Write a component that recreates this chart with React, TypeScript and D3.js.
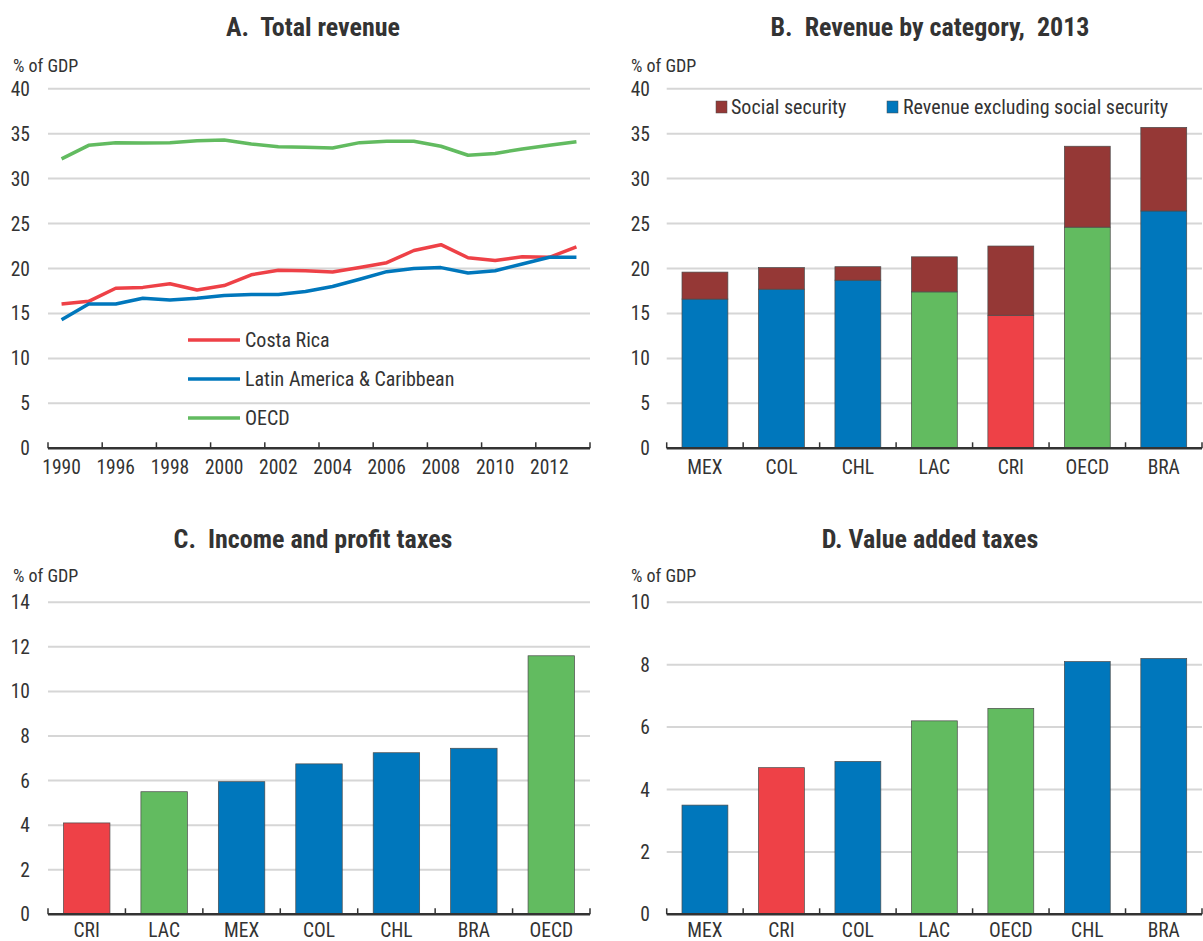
import React from "react";
import * as d3 from "d3";

const years = ["1990","1995","1996","1997","1998","1999","2000","2001","2002","2003","2004","2005","2006","2007","2008","2009","2010","2011","2012","2013"];
const costaRica = [16.05,16.35,17.8,17.9,18.3,17.6,18.1,19.3,19.8,19.75,19.6,20.1,20.65,22.0,22.65,21.2,20.9,21.3,21.25,22.4];
const latam = [14.3,16.05,16.05,16.7,16.5,16.7,17.0,17.1,17.1,17.45,18.0,18.8,19.65,20.0,20.1,19.5,19.75,20.5,21.25,21.25];
const oecd = [32.2,33.7,34.0,33.95,34.0,34.2,34.3,33.85,33.55,33.5,33.4,34.0,34.15,34.15,33.6,32.6,32.8,33.3,33.7,34.1];
const ticksA = [0,5,10,15,20,25,30,35,40];

const catB = ["MEX","COL","CHL","LAC","CRI","OECD","BRA"];
const revExclSS = [16.6,17.7,18.7,17.4,14.8,24.6,26.4];
const socialSec = [3.0,2.4,1.5,3.9,7.7,9.0,9.3];
const ticksB = [0,5,10,15,20,25,30,35,40];

const catC = ["CRI","LAC","MEX","COL","CHL","BRA","OECD"];
const incomeTax = [4.1,5.5,5.95,6.75,7.25,7.45,11.6];
const ticksC = [0,2,4,6,8,10,12,14];

const catD = ["MEX","CRI","COL","LAC","OECD","CHL","BRA"];
const vat = [3.5,4.7,4.9,6.2,6.6,8.1,8.2];
const ticksD = [0,2,4,6,8,10];

const BLUE = "#0077bc";
const RED = "#ee4147";
const GREEN = "#62bb60";
const DARKRED = "#953836";
const GRID = "#d6d6d6";
const AXIS = "#333333";
const TEXT = "#333333";
const FONT = "'Liberation Sans Narrow', 'Arial Narrow', 'Roboto Condensed', Roboto, sans-serif";
const TICK = 19.5;
const LEG = 20;
const TITLE = 26;

const colorFor = (c: string) => (c === "CRI" ? RED : c === "LAC" || c === "OECD" ? GREEN : BLUE);

type Frame = { x0: number; x1: number; yTop: number; yBot: number };

function YAxis({ y, ticks, f, labelX }: { y: d3.ScaleLinear<number, number>; ticks: number[]; f: Frame; labelX: number }) {
  return (
    <g>
      {ticks.map((t) => (
        <g key={t}>
          {t !== 0 && <line x1={f.x0} x2={f.x1} y1={y(t)} y2={y(t)} stroke={GRID} strokeWidth={2} />}
          <text x={labelX} y={y(t)} dy="0.36em" textAnchor="end" fontSize={TICK} fill={TEXT}>{t}</text>
        </g>
      ))}
    </g>
  );
}

function BandAxis({ x, cats, f, labelY }: { x: d3.ScaleBand<string>; cats: string[]; f: Frame; labelY: number }) {
  const step = x.step();
  return (
    <g>
      <line x1={f.x0} x2={f.x1} y1={f.yBot} y2={f.yBot} stroke={AXIS} strokeWidth={2.5} />
      {d3.range(cats.length + 1).map((i) => (
        <line key={i} x1={f.x0 + i * step} x2={f.x0 + i * step} y1={f.yBot} y2={f.yBot - 6} stroke={AXIS} strokeWidth={1.5} />
      ))}
      {cats.map((c) => (
        <text key={c} x={(x(c) as number) + x.bandwidth() / 2} y={labelY} textAnchor="middle" fontSize={TICK} fill={TEXT}>{c}</text>
      ))}
    </g>
  );
}

function PanelA() {
  const f: Frame = { x0: 48, x1: 590, yTop: 88.7, yBot: 448.3 };
  const x = d3.scaleBand<string>().domain(years).range([f.x0, f.x1]).padding(0);
  const y = d3.scaleLinear().domain([0, 40]).range([f.yBot, f.yTop]);
  const bw = x.bandwidth();
  const line = d3.line<number>().x((_, i) => (x(years[i]) as number) + bw / 2).y((v) => y(v));
  const series = [
    { name: "Costa Rica", data: costaRica, color: RED },
    { name: "Latin America & Caribbean", data: latam, color: BLUE },
    { name: "OECD", data: oecd, color: GREEN },
  ];
  const legendY = [340, 379, 418];
  return (
    <g>
      <text x={313} y={36} textAnchor="middle" fontSize={TITLE} fontWeight="bold" fill={TEXT} style={{ whiteSpace: "pre" }}>{"A.  Total revenue"}</text>
      <text x={13} y={72} fontSize={18} fill={TEXT}>% of GDP</text>
      <YAxis y={y} ticks={ticksA} f={f} labelX={30} />
      {series.map((s) => (
        <path key={s.name} d={line(s.data) || ""} fill="none" stroke={s.color} strokeWidth={3.5} strokeLinejoin="round" />
      ))}
      <line x1={f.x0} x2={f.x1} y1={f.yBot} y2={f.yBot} stroke={AXIS} strokeWidth={2.5} />
      {d3.range(0, years.length + 1, 2).map((i) => (
        <line key={i} x1={f.x0 + i * bw} x2={f.x0 + i * bw} y1={f.yBot} y2={f.yBot - 6} stroke={AXIS} strokeWidth={1.5} />
      ))}
      {years.map((yr, i) => i % 2 === 0 ? (
        <text key={yr} x={(x(yr) as number) + bw / 2} y={474} textAnchor="middle" fontSize={TICK} fill={TEXT}>{yr}</text>
      ) : null)}
      {series.map((s, i) => (
        <g key={s.name}>
          <line x1={188} x2={240} y1={legendY[i]} y2={legendY[i]} stroke={s.color} strokeWidth={3.5} />
          <text x={245} y={legendY[i]} dy="0.36em" fontSize={LEG} fill={TEXT}>{s.name}</text>
        </g>
      ))}
    </g>
  );
}

function PanelB() {
  const f: Frame = { x0: 666.7, x1: 1202, yTop: 88.7, yBot: 448.3 };
  const x = d3.scaleBand<string>().domain(catB).range([f.x0, f.x1]).paddingInner(0.4).paddingOuter(0.2);
  const y = d3.scaleLinear().domain([0, 40]).range([f.yBot, f.yTop]);
  return (
    <g>
      <text x={930} y={36} textAnchor="middle" fontSize={TITLE} fontWeight="bold" fill={TEXT} style={{ whiteSpace: "pre" }}>{"B.  Revenue by category,  2013"}</text>
      <text x={631} y={72} fontSize={18} fill={TEXT}>% of GDP</text>
      <YAxis y={y} ticks={ticksB} f={f} labelX={650} />
      {catB.map((c, i) => (
        <g key={c}>
          <rect x={x(c)} width={x.bandwidth()} y={y(revExclSS[i])} height={y(0) - y(revExclSS[i])} fill={colorFor(c)} stroke="#4a4a4a" strokeWidth={0.7} />
          <rect x={x(c)} width={x.bandwidth()} y={y(revExclSS[i] + socialSec[i])} height={y(revExclSS[i]) - y(revExclSS[i] + socialSec[i])} fill={DARKRED} stroke="#4a4a4a" strokeWidth={0.7} />
        </g>
      ))}
      <BandAxis x={x} cats={catB} f={f} labelY={474} />
      <rect x={716} y={101} width={11} height={12} fill={DARKRED} stroke="#4a4a4a" strokeWidth={0.5} />
      <text x={731} y={107} dy="0.36em" fontSize={LEG} fill={TEXT}>Social security</text>
      <rect x={887} y={101} width={11} height={12} fill={BLUE} stroke="#4a4a4a" strokeWidth={0.5} />
      <text x={903} y={107} dy="0.36em" fontSize={LEG} fill={TEXT}>Revenue excluding social security</text>
    </g>
  );
}

function SimpleBars({ cats, vals, ticks, max, x0, x1, title, titleX, unitX, labelX }: { cats: string[]; vals: number[]; ticks: number[]; max: number; x0: number; x1: number; title: string; titleX: number; unitX: number; labelX: number }) {
  const f: Frame = { x0, x1, yTop: 602.3, yBot: 914.3 };
  const x = d3.scaleBand<string>().domain(cats).range([f.x0, f.x1]).paddingInner(0.4).paddingOuter(0.2);
  const y = d3.scaleLinear().domain([0, max]).range([f.yBot, f.yTop]);
  return (
    <g>
      <text x={titleX} y={548} textAnchor="middle" fontSize={TITLE} fontWeight="bold" fill={TEXT} style={{ whiteSpace: "pre" }}>{title}</text>
      <text x={unitX} y={582} fontSize={18} fill={TEXT}>% of GDP</text>
      <YAxis y={y} ticks={ticks} f={f} labelX={labelX} />
      {cats.map((c, i) => (
        <rect key={c} x={x(c)} width={x.bandwidth()} y={y(vals[i])} height={y(0) - y(vals[i])} fill={colorFor(c)} stroke="#4a4a4a" strokeWidth={0.7} />
      ))}
      <BandAxis x={x} cats={cats} f={f} labelY={937} />
    </g>
  );
}

export default function App() {
  return (
    <svg width={1203} height={941} style={{ display: "block", position: "absolute", left: 0, top: 0, fontFamily: FONT, background: "#fff" }}>
      <rect width={1203} height={941} fill="#fff" />
      <PanelA />
      <PanelB />
      <SimpleBars cats={catC} vals={incomeTax} ticks={ticksC} max={14} x0={48} x1={590} title="C.  Income and profit taxes" titleX={313} unitX={13} labelX={30} />
      <SimpleBars cats={catD} vals={vat} ticks={ticksD} max={10} x0={666.7} x1={1202} title="D. Value added taxes" titleX={930} unitX={631} labelX={650} />
    </svg>
  );
}
